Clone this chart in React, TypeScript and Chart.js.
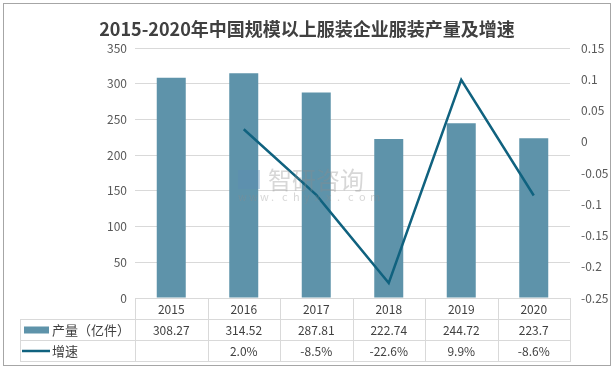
import React, { useEffect, useRef } from "react";
import { Chart, registerables } from "chart.js";

Chart.register(...registerables);

const years = ["2015", "2016", "2017", "2018", "2019", "2020"];
const output = [308.27, 314.52, 287.81, 222.74, 244.72, 223.7];
const growth: (number | null)[] = [null, 0.02, -0.085, -0.226, 0.099, -0.086];
const leftTicks = { min: 0, max: 350, step: 50 };
const rightTicks = { min: -0.25, max: 0.15, step: 0.05 };
const titleText = "2015-2020年中国规模以上服装企业服装产量及增速";
const seriesNames = ["产量（亿件）", "增速"];

const BAR_COLOR = "#5E93AA";
const LINE_COLOR = "#10627F";
const GRID = "#D9D9D9";
const TEXT = "#404040";
const FONT = "'Noto Sans CJK SC', 'Noto Sans', sans-serif";

const tablePlugin = {
  id: "tablePlugin",
  afterDraw(chart: any) {
    const ctx = chart.ctx as CanvasRenderingContext2D;
    const area = chart.chartArea;
    const xs = chart.scales.x;
    const n = years.length;
    const colW = (area.right - area.left) / n;
    const top = area.bottom;
    const r1 = top + 21;
    const r2 = r1 + 21;
    const r3 = r2 + 21;
    const leftEdge = 20;
    ctx.save();
    // outer border
    ctx.strokeStyle = "#A6A6A6";
    ctx.lineWidth = 1;
    ctx.strokeRect(3.5, 3.5, 607, 362);
    // title
    ctx.fillStyle = TEXT;
    ctx.font = `bold 18px ${FONT}`;
    ctx.textAlign = "center";
    ctx.textBaseline = "middle";
    ctx.fillText(titleText, 307, 29);
    // table lines
    ctx.strokeStyle = GRID;
    ctx.lineWidth = 1;
    ctx.beginPath();
    const h = (y: number, x0: number, x1: number) => {
      ctx.moveTo(x0, Math.round(y) + 0.5);
      ctx.lineTo(x1, Math.round(y) + 0.5);
    };
    const v = (x: number, y0: number, y1: number) => {
      ctx.moveTo(Math.round(x) + 0.5, y0);
      ctx.lineTo(Math.round(x) + 0.5, y1);
    };
    h(top, area.left, area.right);
    h(r1, leftEdge, area.right);
    h(r2, leftEdge, area.right);
    h(r3, leftEdge, area.right);
    v(leftEdge, Math.round(r1), Math.round(r3) + 1);
    for (let i = 0; i <= n; i++) {
      v(area.left + i * colW, Math.round(top), Math.round(r3) + 1);
    }
    ctx.stroke();
    // texts
    ctx.fillStyle = TEXT;
    ctx.font = `12px ${FONT}`;
    ctx.textAlign = "center";
    years.forEach((yr, i) => {
      const cx = xs.getPixelForValue(i);
      ctx.fillText(yr, cx, (top + r1) / 2 + 1);
      ctx.fillText(String(output[i]), cx, (r1 + r2) / 2 + 1);
      const g = growth[i];
      if (g !== null) ctx.fillText((g * 100).toFixed(1) + "%", cx, (r2 + r3) / 2 + 1);
    });
    // legend swatches
    ctx.fillStyle = BAR_COLOR;
    ctx.fillRect(24, (r1 + r2) / 2 - 3, 25, 7);
    ctx.strokeStyle = LINE_COLOR;
    ctx.lineWidth = 2.5;
    ctx.beginPath();
    ctx.moveTo(22, (r2 + r3) / 2 + 0.5);
    ctx.lineTo(50, (r2 + r3) / 2 + 0.5);
    ctx.stroke();
    ctx.fillStyle = TEXT;
    ctx.textAlign = "left";
    ctx.font = `13px ${FONT}`;
    ctx.fillText(seriesNames[0], 52, (r1 + r2) / 2 + 1);
    ctx.fillText(seriesNames[1], 52, (r2 + r3) / 2 + 1);
    ctx.restore();
  },
  afterDatasetsDraw(chart: any) {
    const ctx = chart.ctx as CanvasRenderingContext2D;
    ctx.save();
    ctx.globalAlpha = 0.35;
    ctx.fillStyle = "#8C8C8C";
    ctx.textAlign = "left";
    ctx.textBaseline = "middle";
    ctx.font = `24px ${FONT}`;
    ctx.fillText("智研咨询", 268, 180);
    ctx.font = `11px ${FONT}`;
    const site = "www.chyxx.com";
    for (let i = 0; i < site.length; i++) {
      ctx.fillText(site[i], 238 + i * 11, 197);
    }
    ctx.fillStyle = "#5B8DB8";
    ctx.fillRect(238, 170, 22, 19);
    ctx.restore();
  },
};

export default function App() {
  const ref = useRef<HTMLCanvasElement | null>(null);
  useEffect(() => {
    document.body.style.margin = "0";
    if (!ref.current) return;
    const chart = new Chart(ref.current, {
      type: "bar",
      data: {
        labels: years,
        datasets: [
          {
            type: "line",
            label: seriesNames[1],
            data: growth,
            yAxisID: "y1",
            borderColor: LINE_COLOR,
            backgroundColor: LINE_COLOR,
            borderWidth: 2.5,
            pointRadius: 0,
            spanGaps: true,
            order: 0,
          } as any,
          {
            type: "bar",
            label: seriesNames[0],
            data: output,
            yAxisID: "y",
            backgroundColor: BAR_COLOR,
            barPercentage: 0.4,
            categoryPercentage: 1,
            order: 1,
          },
        ],
      },
      options: {
        animation: false,
        responsive: false,
        layout: { padding: { left: 0, right: 0, top: 48, bottom: 71 } },
        plugins: { legend: { display: false }, tooltip: { enabled: false } },
        scales: {
          x: { display: false },
          y: {
            position: "left",
            min: leftTicks.min,
            max: leftTicks.max,
            ticks: { stepSize: leftTicks.step, color: "#595959", font: { size: 12, family: FONT }, padding: 8 },
            grid: { color: GRID, drawTicks: false },
            border: { display: false },
            afterFit: (s: any) => {
              s.width = 135;
            },
          },
          y1: {
            position: "right",
            min: rightTicks.min,
            max: rightTicks.max,
            ticks: {
              stepSize: rightTicks.step,
              color: "#595959",
              font: { size: 12, family: FONT },
              padding: 11,
              callback: (val: any) => String(parseFloat(Number(val).toFixed(2))),
            },
            grid: { display: false, drawTicks: false },
            border: { display: false },
            afterFit: (s: any) => {
              s.width = 44;
            },
          },
        },
      } as any,
      plugins: [tablePlugin],
    });
    return () => chart.destroy();
  }, []);
  return (
    <div style={{ position: "fixed", left: 0, top: 0, width: 614, height: 369, background: "#fff" }}>
      <canvas ref={ref} width={614} height={369} style={{ width: 614, height: 369, display: "block" }} />
    </div>
  );
}
